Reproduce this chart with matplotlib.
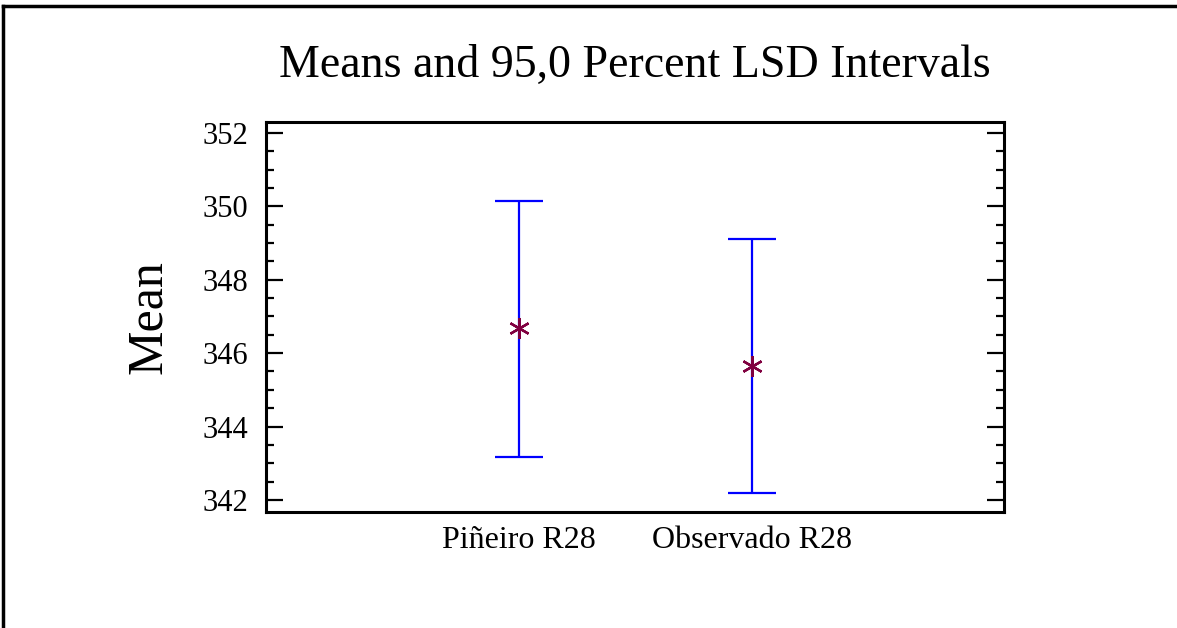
import matplotlib.pyplot as plt
from matplotlib.lines import Line2D

# LSD interval data per group
groups = ["Piñeiro R28", "Observado R28"]
means = [346.68, 345.65]
lower = [343.18, 342.19]
upper = [350.15, 349.12]

plt.rcParams['font.family'] = ['Liberation Serif', 'DejaVu Serif']

fig = plt.figure(figsize=(11.77, 6.28), dpi=100)
ax = fig.add_axes([266 / 1177, 1 - 512 / 628, (1004 - 266) / 1177, (512 - 122) / 628])

xpos = [1, 2]
for x, m, lo, hi in zip(xpos, means, lower, upper):
    ax.errorbar([x], [m], yerr=[[m - lo], [hi - m]], fmt='none',
                ecolor='#0000ff', elinewidth=1.6, capsize=17, capthick=1.6)
ax.plot(xpos, means, linestyle='none', marker=(6, 2, 0), markersize=15,
        markeredgewidth=1.7, color='#800040', zorder=3)

ax.set_xlim(-0.086, 3.081)
ax.set_ylim(341.67, 352.3)
ax.set_yticks([342, 344, 346, 348, 350, 352])
ax.set_yticks([342 + 0.5 * i for i in range(21)], minor=True)
ax.set_xticks(xpos)
ax.set_xticklabels(groups)

ax.tick_params(axis='y', which='both', direction='in', left=True, right=True,
               labelsize=22, pad=13, width=1.6)
ax.tick_params(axis='y', which='major', length=12)
ax.tick_params(axis='y', which='minor', length=6)
ax.tick_params(axis='x', length=0, labelsize=23, pad=10)

for s in ax.spines.values():
    s.set_linewidth(2.2)

ax.set_ylabel("Mean", fontsize=36, labelpad=22)
fig.text(635 / 1177, 1 - 66 / 628, "Means and 95,0 Percent LSD Intervals",
         ha='center', va='center', fontsize=33)

# frame around the figure (top and left edges)
fig.add_artist(Line2D([3 / 1177, 1], [1 - 6 / 628, 1 - 6 / 628], color='black', lw=2.5))
fig.add_artist(Line2D([3 / 1177, 3 / 1177], [0, 1 - 6 / 628], color='black', lw=2.5))

fig.savefig("out.png", dpi=100)
